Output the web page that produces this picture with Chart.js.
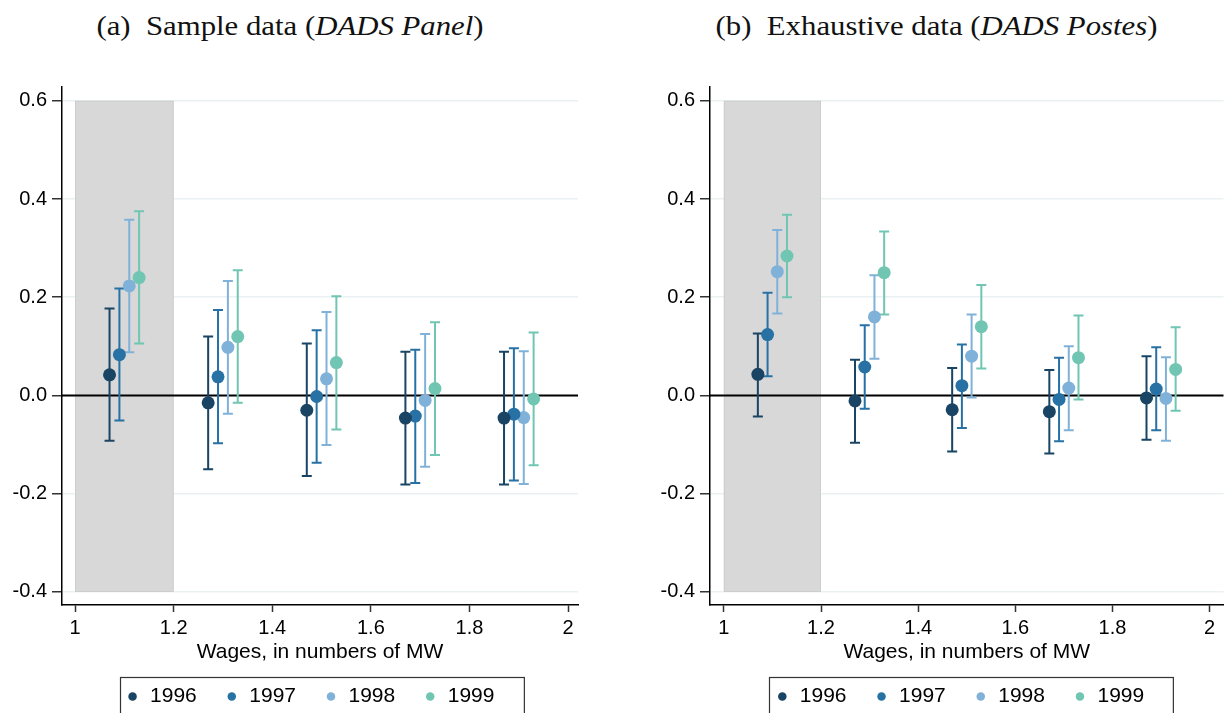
<!DOCTYPE html>
<html>
<head>
<meta charset="utf-8">
<script src="https://cdn.jsdelivr.net/npm/chart.js@4.4.1/dist/chart.umd.min.js"></script>
<style>
  html, body { margin: 0; padding: 0; background: #fff; }
  body { width: 1230px; height: 713px; position: relative; overflow: hidden; }
  .ttl {
    position: absolute; top: 13px; height: 30px; line-height: 27px;
    font-family: 'Liberation Serif', 'Times New Roman', serif; font-size: 27px;
    color: #111; white-space: pre; text-align: center;
    transform: scaleX(1.14);
  }
  .box { position: absolute; top: 70px; width: 615px; height: 647px; }
</style>
</head>
<body>
<div class="ttl" style="left:90px;width:400px;">(a)  Sample data (<i>DADS Panel</i>)</div>
<div class="ttl" style="left:710px;width:453px;">(b)  Exhaustive data (<i>DADS Postes</i>)</div>
<div class="box" style="left:0;"><canvas id="panelChart"></canvas></div>
<div class="box" style="left:615px;"><canvas id="postesChart"></canvas></div>

<script>
/* ============================================================
   Wage-bin estimates by year, two data sources
   ============================================================ */

const years   = ['1996', '1997', '1998', '1999'];
const colors  = ['#1a4463', '#2771a5', '#80b2d9', '#70c6b2'];

// x position of each year's marker inside the wage bins
const xPos = [
  [1.07, 1.27, 1.47, 1.67, 1.87],
  [1.09, 1.29, 1.49, 1.69, 1.89],
  [1.11, 1.31, 1.51, 1.71, 1.91],
  [1.13, 1.33, 1.53, 1.73, 1.93],
];

// ── (a) DADS Panel ─────────────────────────────────────────────
const panelEst = [
  [0.042, -0.015, -0.030, -0.046, -0.046],
  [0.083,  0.038, -0.002, -0.042, -0.038],
  [0.223,  0.098,  0.034, -0.010, -0.045],
  [0.240,  0.120,  0.067,  0.014, -0.007],
];
const panelLo = [
  [-0.092, -0.150, -0.164, -0.181, -0.181],
  [-0.051, -0.097, -0.137, -0.178, -0.173],
  [ 0.088, -0.037, -0.101, -0.145, -0.180],
  [ 0.106, -0.015, -0.069, -0.121, -0.142],
];
const panelHi = [
  [0.177, 0.120, 0.106, 0.089, 0.089],
  [0.218, 0.174, 0.133, 0.093, 0.096],
  [0.358, 0.233, 0.170, 0.125, 0.090],
  [0.375, 0.255, 0.202, 0.149, 0.128],
];

// ── (b) DADS Postes ────────────────────────────────────────────
const postesEst = [
  [0.043, -0.011, -0.029, -0.033, -0.005],
  [0.124,  0.058,  0.020, -0.008,  0.013],
  [0.252,  0.160,  0.080,  0.015, -0.006],
  [0.284,  0.250,  0.140,  0.077,  0.053],
];
const postesLo = [
  [-0.043, -0.096, -0.114, -0.118, -0.090],
  [ 0.039, -0.027, -0.066, -0.093, -0.071],
  [ 0.167,  0.075, -0.004, -0.071, -0.092],
  [ 0.200,  0.165,  0.055, -0.008, -0.031],
];
const postesHi = [
  [0.126, 0.073, 0.056, 0.052, 0.080],
  [0.209, 0.143, 0.104, 0.077, 0.098],
  [0.337, 0.245, 0.165, 0.100, 0.078],
  [0.368, 0.334, 0.225, 0.163, 0.139],
];

const yTicks = [-0.4, -0.2, 0, 0.2, 0.4, 0.6];
const xTicks = [1, 1.2, 1.4, 1.6, 1.8, 2];
const xTickLabels = ['1', '1.2', '1.4', '1.6', '1.8', '2'];
const shadeRange = [1.0, 1.2];

const SANS = "'Liberation Sans', Arial, Helvetica, sans-serif";

// grey band + zero line, drawn under the markers
const backdrop = {
  id: 'backdrop',
  beforeDatasetsDraw(chart) {
    const { ctx, chartArea: a, scales: { x, y } } = chart;
    const x0 = x.getPixelForValue(shadeRange[0]), x1 = x.getPixelForValue(shadeRange[1]);
    const y0 = y.getPixelForValue(yTicks[yTicks.length - 1]), y1 = y.getPixelForValue(yTicks[0]);
    ctx.save();
    ctx.fillStyle = '#d8d8d8';
    ctx.fillRect(x0, y0, x1 - x0, y1 - y0);
    ctx.strokeStyle = '#cdcdcd';
    ctx.lineWidth = 1;
    ctx.strokeRect(x0 + 0.5, y0 + 0.5, x1 - x0 - 1, y1 - y0 - 1);
    const yz = y.getPixelForValue(0);
    ctx.strokeStyle = '#000';
    ctx.lineWidth = 2;
    ctx.beginPath();
    ctx.moveTo(a.left, yz);
    ctx.lineTo(a.right, yz);
    ctx.stroke();
    ctx.restore();
  },
};

// confidence intervals with caps
const errorBars = {
  id: 'errorBars',
  beforeDatasetsDraw(chart) {
    const { ctx, scales: { x, y } } = chart;
    chart.data.datasets.forEach(ds => {
      ctx.save();
      ctx.strokeStyle = ds.borderColor;
      ctx.lineWidth = 2;
      ds.data.forEach((p, j) => {
        const px = x.getPixelForValue(p.x);
        const top = y.getPixelForValue(ds.hi[j]);
        const bot = y.getPixelForValue(ds.lo[j]);
        ctx.beginPath();
        ctx.moveTo(px, top); ctx.lineTo(px, bot);
        ctx.moveTo(px - 5, top); ctx.lineTo(px + 5, top);
        ctx.moveTo(px - 5, bot); ctx.lineTo(px + 5, bot);
        ctx.stroke();
      });
      ctx.restore();
    });
  },
};

// nudge the legend and frame it like the original
const legendFrame = {
  id: 'legendFrame',
  afterLayout(chart, args, opts) {
    const lg = chart.legend;
    if (!lg) return;
    lg.left += opts.shift || 0;
    lg.right += opts.shift || 0;
  },
  afterDraw(chart) {
    const lg = chart.legend;
    if (!lg || !lg.lineWidths) return;
    const lab = lg.options.labels;
    const pad = lab.padding;
    const rowW = lg.lineWidths[0];
    // same start position the legend uses for a centred row
    const x0 = (lg.left + pad + lg.right - rowW) / 2;
    const left = x0 - 6;
    const right = x0 + rowW - pad + 29;
    const cy = lg.top + pad + lab.font.size / 2;
    const { ctx } = chart;
    ctx.save();
    ctx.strokeStyle = '#333';
    ctx.lineWidth = 1.2;
    ctx.strokeRect(Math.round(left) + 0.5, Math.round(cy - 20) + 0.5, right - left, 60);
    ctx.restore();
  },
};

function makeChart(id, est, lo, hi, cfg) {
  const datasets = years.map((yr, i) => ({
    label: yr,
    data: xPos[i].map((xv, j) => ({ x: xv, y: est[i][j] })),
    lo: lo[i],
    hi: hi[i],
    backgroundColor: colors[i],
    borderColor: colors[i],
    pointRadius: 6.5,
    pointHoverRadius: 6.5,
    pointBorderWidth: 0,
    borderWidth: 0,
  }));

  return new Chart(document.getElementById(id).getContext('2d'), {
    type: 'scatter',
    data: { datasets },
    plugins: [backdrop, errorBars, legendFrame],
    options: {
      responsive: true,
      maintainAspectRatio: false,
      animation: false,
      events: [],
      layout: { padding: { top: 17, right: cfg.padRight, left: 0, bottom: 0 } },
      plugins: {
        tooltip: { enabled: false },
        title: { display: false },
        legendFrame: { shift: cfg.legendShift },
        legend: {
          position: 'bottom',
          fullSize: false,
          labels: {
            usePointStyle: true,
            pointStyle: 'circle',
            boxWidth: 14,
            boxHeight: 6,
            padding: 28,
            color: '#000',
            font: { family: SANS, size: 21 },
          },
        },
      },
      scales: {
        x: {
          type: 'linear',
          min: cfg.xMin,
          max: cfg.xMax,
          afterBuildTicks: s => { s.ticks = xTicks.map(v => ({ value: v })); },
          afterFit: s => { s.height = 53; },
          border: { display: true, color: '#000', width: 1.5 },
          grid: { drawOnChartArea: false, drawTicks: true, tickLength: 7, tickColor: '#333', tickWidth: 1.5 },
          ticks: {
            padding: 4,
            color: '#000',
            font: { family: SANS, size: 20 },
            maxRotation: 0,
            callback: (v, i) => xTickLabels[i],
          },
          title: {
            display: true,
            text: 'Wages, in numbers of MW',
            color: '#000',
            font: { family: SANS, size: 21 },
            padding: { top: 0, bottom: -7 },
          },
        },
        y: {
          type: 'linear',
          min: -0.4265,
          max: 0.628,
          afterBuildTicks: s => { s.ticks = yTicks.map(v => ({ value: v })); },
          afterFit: s => { s.width = cfg.yWidth; },
          border: { display: true, color: '#000', width: 1.5 },
          grid: { color: '#e9f1f3', lineWidth: 1.5, tickLength: 10, tickColor: '#333', tickWidth: 1.5 },
          ticks: {
            padding: 5,
            color: '#000',
            font: { family: SANS, size: 20 },
            callback: v => v.toFixed(1),
          },
        },
      },
    },
  });
}

makeChart('panelChart', panelEst, panelLo, panelHi,
  { yWidth: 62, padRight: 37, xMin: 0.9736, xMax: 2.02, legendShift: -10 });
makeChart('postesChart', postesEst, postesLo, postesHi,
  { yWidth: 95, padRight: 1, xMin: 0.9715, xMax: 2.0285, legendShift: -7 });
</script>
</body>
</html>
